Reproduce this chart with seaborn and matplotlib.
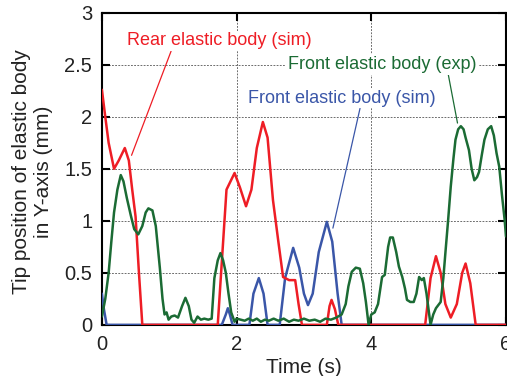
import matplotlib

matplotlib.use("Agg")
import matplotlib.pyplot as plt
import pandas as pd
import seaborn as sns

# --------------------------------------------------------------------- #
# Data (time in s, tip position in mm)
# --------------------------------------------------------------------- #
t_rear = [0, 0.05, 0.1, 0.18, 0.25, 0.34, 0.4, 0.45, 0.5, 0.55, 0.6,
          1.72, 1.78, 1.85, 1.97, 2.05, 2.14, 2.22, 2.3, 2.39, 2.46, 2.54,
          2.62, 2.69, 2.78, 2.87, 2.92, 2.97, 3.34, 3.38, 3.41, 3.46, 3.51,
          4.8, 4.88, 4.96, 5.03, 5.1, 5.18, 5.27, 5.35, 5.4, 5.47, 5.55, 6.0]
y_rear = [2.26, 2.0, 1.75, 1.5, 1.58, 1.70, 1.58, 1.3, 1.04, 0.5, 0.0,
          0.0, 0.6, 1.3, 1.46, 1.32, 1.14, 1.3, 1.7, 1.95, 1.8, 1.2,
          0.8, 0.46, 0.43, 0.43, 0.2, 0.0, 0.0, 0.18, 0.24, 0.15, 0.0,
          0.0, 0.45, 0.66, 0.5, 0.2, 0.07, 0.2, 0.5, 0.59, 0.4, 0.0, 0.0]

t_front_sim = [0, 0.03, 0.07, 1.78, 1.84, 1.87, 1.9, 1.94, 2.19, 2.25, 2.33,
               2.4, 2.46, 2.64, 2.72, 2.84, 2.93, 3.0, 3.06, 3.13, 3.22, 3.34,
               3.42, 3.5, 3.56, 6.0]
y_front_sim = [0.3, 0.15, 0.0, 0.0, 0.1, 0.16, 0.1, 0.0, 0.0, 0.3, 0.45,
               0.3, 0.0, 0.0, 0.45, 0.74, 0.55, 0.3, 0.19, 0.3, 0.7, 0.99,
               0.8, 0.3, 0.0, 0.0]

t_front_exp = [0, 0.05, 0.1, 0.14, 0.18, 0.23, 0.28, 0.32, 0.37, 0.43, 0.48,
               0.54, 0.6, 0.65, 0.69, 0.75, 0.8, 0.86, 0.9, 0.93, 0.96, 0.99,
               1.03, 1.08, 1.13, 1.19, 1.24, 1.29, 1.33, 1.37, 1.42, 1.47,
               1.52, 1.58, 1.63, 1.67, 1.72, 1.76, 1.8, 1.84, 1.88, 1.92,
               1.97, 2.0, 2.06, 2.12, 2.18, 2.24, 2.3, 2.36, 2.42, 2.48, 2.55,
               2.62, 2.7, 2.78, 2.85, 2.92, 3.0, 3.08, 3.16, 3.24, 3.32, 3.4,
               3.48, 3.56, 3.62, 3.66, 3.71, 3.77, 3.83, 3.88, 3.92, 3.96,
               4.0, 4.05, 4.1, 4.16, 4.2, 4.25, 4.28, 4.32, 4.37, 4.41, 4.46,
               4.5, 4.53, 4.58, 4.63, 4.67, 4.71, 4.75, 4.78, 4.82, 4.86,
               4.88, 4.92, 4.96, 5.03, 5.07, 5.1, 5.14, 5.18, 5.22, 5.25,
               5.29, 5.33, 5.37, 5.4, 5.45, 5.49, 5.53, 5.57, 5.6, 5.64, 5.68,
               5.73, 5.78, 5.82, 5.86, 5.9, 5.94, 5.98, 6.0]
y_front_exp = [0.08, 0.25, 0.5, 0.8, 1.08, 1.3, 1.44, 1.38, 1.22, 1.05, 0.92,
               0.87, 0.95, 1.08, 1.12, 1.1, 0.95, 0.55, 0.25, 0.1, 0.12, 0.05,
               0.08, 0.09, 0.07, 0.18, 0.26, 0.18, 0.05, 0.02, 0.08, 0.05,
               0.06, 0.05, 0.06, 0.45, 0.62, 0.69, 0.62, 0.5, 0.3, 0.12,
               0.03, 0.06, 0.05, 0.04, 0.06, 0.04, 0.06, 0.03, 0.05, 0.04, 0.06,
               0.04, 0.06, 0.03, 0.05, 0.04, 0.06, 0.04, 0.05, 0.03, 0.06, 0.05,
               0.07, 0.1, 0.2, 0.37, 0.51, 0.55, 0.54, 0.4, 0.22, 0.0,
               0.1, 0.12, 0.2, 0.46, 0.48, 0.75, 0.84, 0.84, 0.7, 0.56, 0.46,
               0.35, 0.24, 0.22, 0.22, 0.3, 0.46, 0.43, 0.45, 0.3, 0.1,
               0.0, 0.1, 0.16, 0.22, 0.45, 0.69, 1.0, 1.33, 1.6, 1.78,
               1.88, 1.91, 1.88, 1.8, 1.68, 1.5, 1.39, 1.42, 1.47, 1.63, 1.78,
               1.88, 1.91, 1.82, 1.65, 1.52, 1.25, 1.01, 0.85]

RED = "#ee1d25"
GREEN = "#1b6b34"
BLUE = "#3a56a8"

sns.set_style("ticks")
plt.rcParams["font.family"] = ["Liberation Sans", "DejaVu Sans"]

fig = plt.figure(figsize=(5.07, 3.76), dpi=100)
ax = fig.add_axes([0.201, 0.136, 0.797, 0.830])

rear = pd.DataFrame({"t": t_rear, "y": y_rear})
fsim = pd.DataFrame({"t": t_front_sim, "y": y_front_sim})
fexp = pd.DataFrame({"t": t_front_exp, "y": y_front_exp})

# blue under red under green, as in the reference
sns.lineplot(data=fsim, x="t", y="y", color=BLUE, lw=1.8, ax=ax,
             estimator=None, sort=False, zorder=3)
sns.lineplot(data=rear, x="t", y="y", color=RED, lw=1.8, ax=ax,
             estimator=None, sort=False, zorder=4)
sns.lineplot(data=fexp, x="t", y="y", color=GREEN, lw=1.8, ax=ax,
             estimator=None, sort=False, zorder=5)

ax.set_xlim(0, 6)
ax.set_ylim(0, 3)
ax.set_xticks([0, 2, 4, 6])
ax.set_yticks([0, 0.5, 1, 1.5, 2, 2.5, 3])
ax.set_yticklabels(["0", "0.5", "1", "1.5", "2", "2.5", "3"])
ax.grid(True, color="#555555", lw=0.6, ls=(0, (2.2, 1.6)))
ax.tick_params(direction="in", length=6, width=1.5, labelsize=14.5, pad=7,
               top=True, right=True, colors="black", labelcolor="#222222")
for s in ax.spines.values():
    s.set_linewidth(1.5)
    s.set_color("black")

ax.set_xlabel("Time (s)", fontsize=15, color="#222222", labelpad=3)
ax.set_ylabel("Tip position of elastic body\nin Y-axis (mm)", fontsize=15,
              color="#222222")
ax.yaxis.set_label_coords(-0.122, 0.49)

box = dict(boxstyle="square,pad=0.1", fc="white", ec="none")
ax.annotate("Rear elastic body (sim)", xy=(0.44, 1.63), xytext=(1.75, 2.73),
            ha="center", va="center", fontsize=13, color=RED, bbox=box,
            zorder=6,
            arrowprops=dict(arrowstyle="-", color=RED, lw=0.9,
                            relpos=(0.24, 0.0), shrinkA=0, shrinkB=0))
ax.annotate("Front elastic body (exp)", xy=(5.28, 1.94), xytext=(4.16, 2.5),
            ha="center", va="center", fontsize=13, color=GREEN, bbox=box,
            zorder=6,
            arrowprops=dict(arrowstyle="-", color=GREEN, lw=0.9,
                            relpos=(0.85, 0.0), shrinkA=0, shrinkB=0))
ax.annotate("Front elastic body (sim)", xy=(3.43, 0.93), xytext=(3.56, 2.18),
            ha="center", va="center", fontsize=13, color=BLUE, bbox=box,
            zorder=6,
            arrowprops=dict(arrowstyle="-", color=BLUE, lw=0.9,
                            relpos=(0.6, 0.0), shrinkA=0, shrinkB=0))

fig.savefig("out.png", dpi=100)
plt.close(fig)
